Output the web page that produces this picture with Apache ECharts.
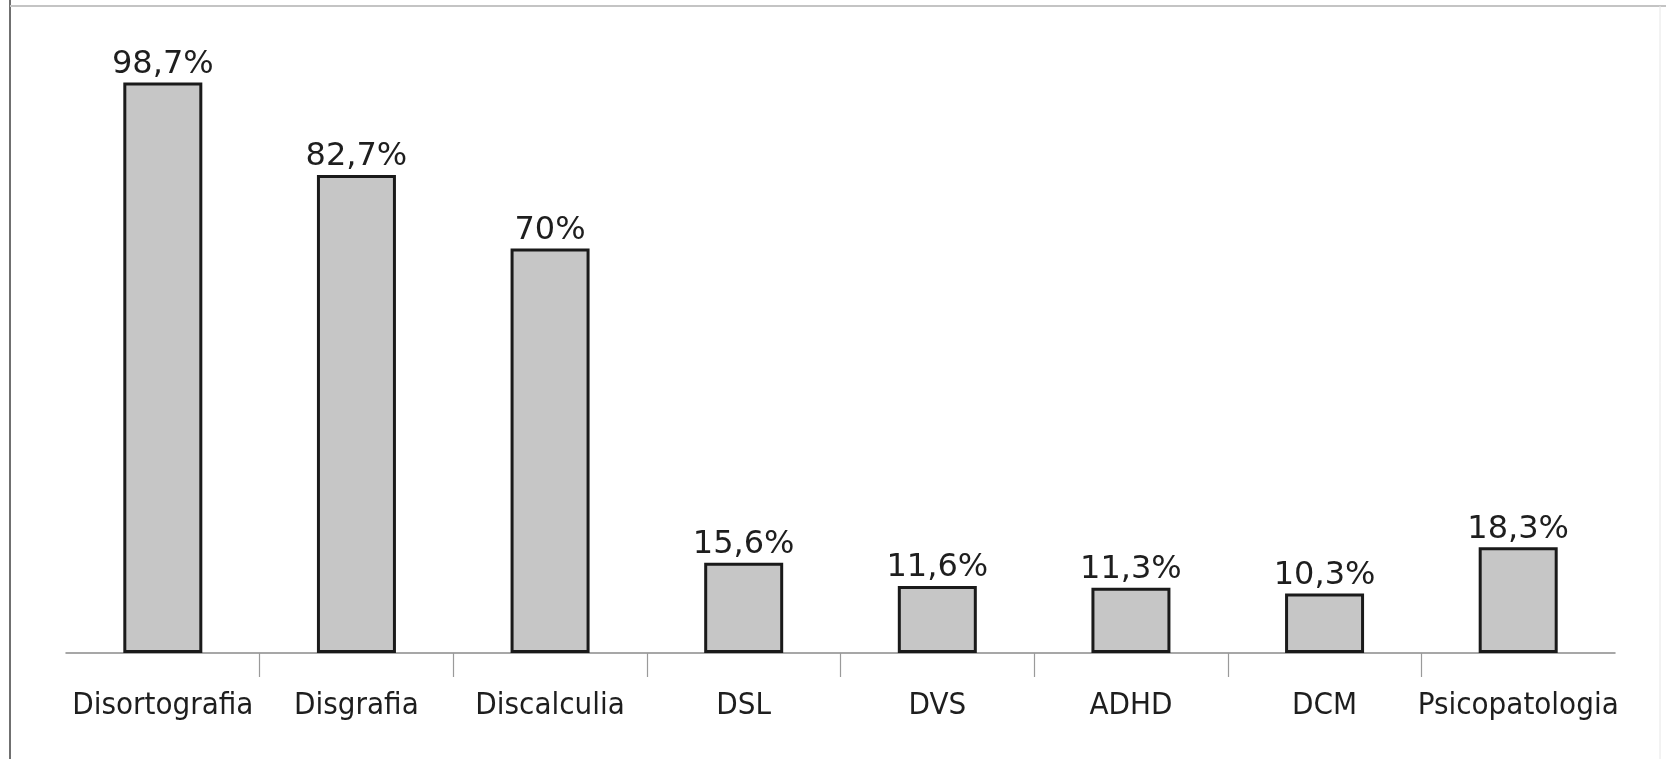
<!DOCTYPE html>
<html>
<head>
<meta charset="utf-8">
<title>Comorbidità</title>
<script src="https://cdn.jsdelivr.net/npm/echarts@6/dist/echarts.min.js"></script>
<style>
  html, body { margin: 0; padding: 0; background: #ffffff; }
  #chart { width: 1666px; height: 759px; }
</style>
</head>
<body>
<div id="chart"></div>
<script>
// Disturbi e relative percentuali
const categories = ['Disortografia', 'Disgrafia', 'Discalculia', 'DSL', 'DVS', 'ADHD', 'DCM', 'Psicopatologia'];
const values = [98.7, 82.7, 70, 15.6, 11.6, 11.3, 10.3, 18.3];
const valueLabels = ['98,7%', '82,7%', '70%', '15,6%', '11,6%', '11,3%', '10,3%', '18,3%'];
// separatori tra categorie adiacenti (solo interni)
const separators = [1, 2, 3, 4, 5, 6, 7];

const LABEL_FONT = '"DejaVu Sans", sans-serif';
const AXIS_FONT = '"DejaVu Sans Condensed", "DejaVu Sans", sans-serif';

const chart = echarts.init(document.getElementById('chart'), null, { renderer: 'canvas' });

chart.setOption({
  animation: false,
  backgroundColor: '#ffffff',
  grid: { left: 66, right: 51, top: 75, bottom: 106, containLabel: false },
  xAxis: [{
    type: 'category',
    data: categories,
    boundaryGap: true,
    axisLine: { show: true, lineStyle: { color: '#8a8a8a', width: 1.5 } },
    axisTick: { show: false },
    axisLabel: {
      interval: 0,
      margin: 37,
      color: '#1e1e1e',
      fontFamily: AXIS_FONT,
      fontSize: 31
    }
  }, {
    // asse di servizio per i trattini di separazione
    type: 'value',
    position: 'bottom',
    min: 0,
    max: categories.length,
    axisLine: { show: false },
    axisLabel: { show: false },
    splitLine: { show: false },
    axisTick: {
      show: true,
      length: 24,
      customValues: separators,
      lineStyle: { color: '#9a9a9a', width: 1.2 }
    }
  }],
  yAxis: {
    type: 'value',
    min: 0,
    max: 100,
    show: false,
    splitLine: { show: false }
  },
  series: [{
    type: 'bar',
    xAxisIndex: 0,
    data: values,
    barWidth: 79,
    itemStyle: {
      color: '#c6c6c6',
      borderColor: '#1a1a1a',
      borderWidth: 3
    },
    label: {
      show: true,
      position: 'top',
      distance: 2,
      color: '#1e1e1e',
      fontFamily: LABEL_FONT,
      fontSize: 32,
      formatter: (p) => valueLabels[p.dataIndex]
    }
  }],
  graphic: [
    // cornice della figura
    { type: 'line', shape: { x1: 10, y1: 0, x2: 10, y2: 759 }, style: { stroke: '#707070', lineWidth: 2 }, silent: true },
    { type: 'line', shape: { x1: 10, y1: 6, x2: 1666, y2: 6 }, style: { stroke: '#c4c4c4', lineWidth: 2 }, silent: true },
    { type: 'line', shape: { x1: 1660, y1: 6, x2: 1660, y2: 759 }, style: { stroke: '#e6e6e6', lineWidth: 1 }, silent: true }
  ]
});
</script>
</body>
</html>
